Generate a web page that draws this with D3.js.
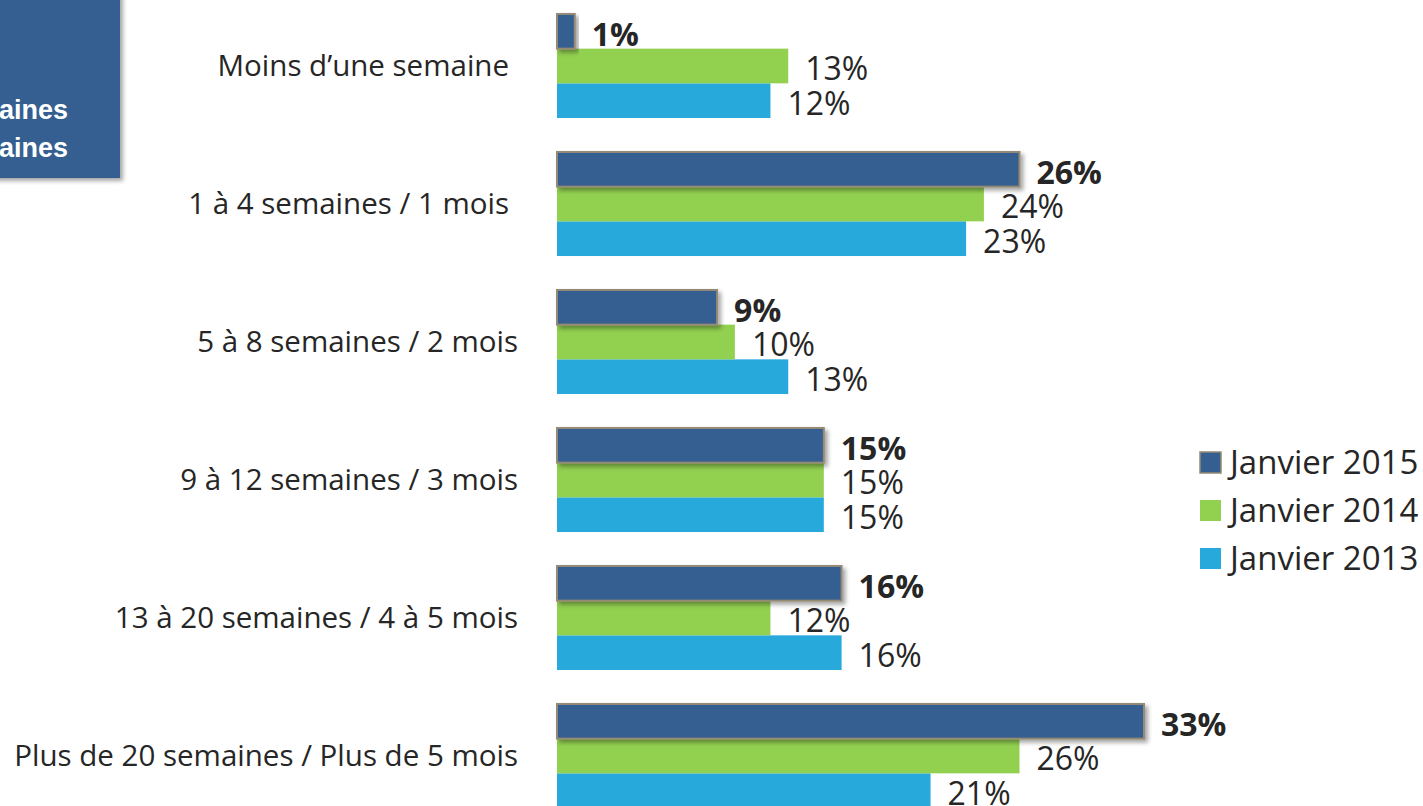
<!DOCTYPE html>
<html>
<head>
<meta charset="utf-8">
<script src="https://cdn.jsdelivr.net/npm/d3@7"></script>
<style>
  body { margin: 0; background: #fff; }
  svg { display: block; font-family: "Open Sans", sans-serif; }
  .cat { font-size: 29.5px; fill: #262626; }
  .val { font-size: 32px; fill: #262626; }
  .val.bold { font-weight: bold; }
  .leg { font-size: 33px; fill: #262626; }
  .box-text { font-family: "Liberation Sans", Arial, sans-serif; font-weight: bold; font-size: 27px; fill: #fff; }
</style>
</head>
<body>
<svg width="1423" height="806"></svg>
<script>
const categories = [
    'Moins d\u2019une semaine',
    '1 à 4 semaines / 1 mois',
    '5 à 8 semaines / 2 mois',
    '9 à 12 semaines / 3 mois',
    '13 à 20 semaines / 4 à 5 mois',
    'Plus de 20 semaines / Plus de 5 mois'
];
const seriesNames = ['Janvier 2015', 'Janvier 2014', 'Janvier 2013'];
const jan2015 = [1, 26, 9, 15, 16, 33];
const jan2014 = [13, 24, 10, 15, 12, 26];
const jan2013 = [12, 23, 13, 15, 16, 21];
const boxLines = ['semaines', 'semaines'];

const colors = ['#355f91', '#92d050', '#27a9dc'];
const values = [jan2015, jan2014, jan2013];

let svg = d3.select('svg');

let defs = svg.append('defs');
let shadow = defs.append('filter').attr('id', 'shadow')
    .attr('x', '-10%').attr('y', '-10%').attr('width', '130%').attr('height', '140%');
shadow.append('feDropShadow')
    .attr('dx', 3).attr('dy', 3).attr('stdDeviation', 2)
    .attr('flood-color', '#000').attr('flood-opacity', 0.35);

// clipped title box at top left
svg.append('rect')
    .attr('x', -20).attr('y', -20)
    .attr('width', 140).attr('height', 198)
    .attr('fill', '#355f91')
    .attr('filter', 'url(#shadow)');
svg.selectAll('.box-text').data(boxLines).enter().append('text')
    .attr('class', 'box-text')
    .attr('text-anchor', 'end')
    .attr('x', 68)
    .attr('y', (d, i) => 119 + i * 38)
    .text(d => d);

let x = d3.scaleLinear()
    .domain([0, 33])
    .range([557, 1144]);

let y = d3.scaleBand()
    .domain(categories)
    .range([-3, 825])
    .paddingInner(0.246)
    .paddingOuter(0.123);

let ySub = d3.scaleBand()
    .domain(seriesNames)
    .range([0, y.bandwidth()]);

let groups = svg.selectAll('g.cat-group').data(categories).enter().append('g')
    .attr('class', 'cat-group')
    .attr('transform', d => `translate(0, ${y(d)})`);

groups.append('text')
    .attr('class', 'cat')
    .attr('text-anchor', 'end')
    .attr('x', (d, i) => i < 2 ? 509 : 518)
    .attr('y', y.bandwidth() / 2)
    .attr('dy', '0.35em')
    .text(d => d);

// draw series from last to first so the dark bar shadow sits on top
[2, 1, 0].forEach(s => {
    groups.append('rect')
        .attr('x', x(0))
        .attr('y', ySub(seriesNames[s]))
        .attr('width', (d, i) => x(values[s][i]) - x(0))
        .attr('height', ySub.bandwidth())
        .attr('fill', colors[s])
        .attr('stroke', s === 0 ? '#948a74' : 'none')
        .attr('stroke-width', s === 0 ? 2 : 0)
        .attr('filter', s === 0 ? 'url(#shadow)' : null);
});

seriesNames.forEach((name, s) => {
    groups.append('text')
        .attr('class', s === 0 ? 'val bold' : 'val')
        .attr('x', (d, i) => x(values[s][i]) + 17)
        .attr('y', ySub(name) + ySub.bandwidth() / 2 + 3)
        .attr('dy', '0.35em')
        .text((d, i) => values[s][i] + '%');
});

let legend = svg.append('g').attr('transform', 'translate(1200, 452)');
let items = legend.selectAll('g').data(seriesNames).enter().append('g')
    .attr('transform', (d, i) => `translate(0, ${i * 48})`);
items.append('rect')
    .attr('width', 21).attr('height', 21)
    .attr('fill', (d, i) => colors[i])
    .attr('stroke', (d, i) => i === 0 ? '#948a74' : 'none')
    .attr('stroke-width', 1.5);
items.append('text')
    .attr('class', 'leg')
    .attr('x', 30)
    .attr('y', 10.5)
    .attr('dy', '0.35em')
    .text(d => d);
</script>
</body>
</html>
